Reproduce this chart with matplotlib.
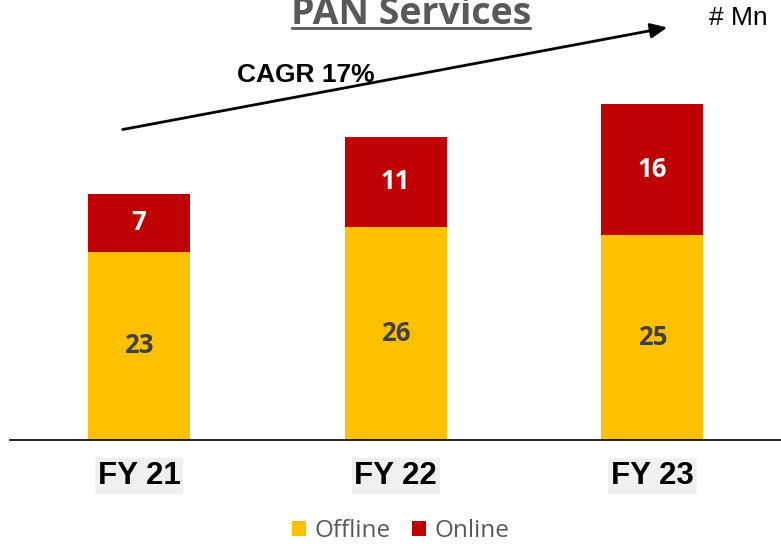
import numpy as np
import matplotlib.pyplot as plt
from matplotlib.lines import Line2D

years = ["FY 21", "FY 22", "FY 23"]
offline = [23, 26, 25]
online = [7, 11, 16]

yellow = "#FFC000"
red = "#C00000"

fig = plt.figure(figsize=(7.81, 5.48), dpi=100)
ax = fig.add_axes([10 / 781, 108 / 548, 771 / 781, 440 / 548])

x = np.arange(len(years))
w = 0.397
b1 = ax.bar(x, offline, w, color=yellow, label="Offline")
b2 = ax.bar(x, online, w, bottom=offline, color=red, label="Online")

for i in range(len(years)):
    ax.text(x[i], offline[i] / 2, str(offline[i]), ha="center", va="center",
            fontsize=18.5, fontweight="bold", color="#404040", family="Open Sans")
    ax.text(x[i], offline[i] + online[i] / 2, str(online[i]), ha="center", va="center",
            fontsize=18.5, fontweight="bold", color="white", family="Open Sans")

ax.set_xlim(-0.5025, 2.501)
ax.set_ylim(0, 53.7)
ax.set_yticks([])
ax.set_xticks(x)
ax.set_xticklabels(years, fontsize=22.5, fontweight="bold", family="Liberation Sans",
                   bbox=dict(facecolor="#f0f0f0", edgecolor="none", pad=2))
ax.tick_params(axis="x", length=0, pad=15)
for s in ["top", "right", "left"]:
    ax.spines[s].set_visible(False)
ax.spines["bottom"].set_color("black")
ax.spines["bottom"].set_linewidth(1.2)

# title (cut off at top, underlined)
fig.text(411 / 781, 1 - 24 / 548, "PAN Services", ha="center", va="baseline",
         fontsize=27, fontweight="bold", color="#595959", family="Open Sans")
fig.add_artist(Line2D([292 / 781, 530 / 781], [1 - 28 / 548, 1 - 28 / 548],
                      color="#595959", lw=2))

fig.text(768 / 781, 1 - 18 / 548, "# Mn", ha="right", va="center",
         fontsize=19, family="Liberation Sans")

# CAGR arrow
ax.annotate("", xy=(670, 548 - 27), xytext=(120, 548 - 130),
            xycoords="figure pixels", textcoords="figure pixels",
            arrowprops=dict(arrowstyle="-|>,head_length=1.0,head_width=0.45",
                            color="black", lw=2))
fig.text(237 / 781, 1 - 75 / 548, "CAGR 17%", ha="left", va="center",
         fontsize=19, fontweight="bold", family="Liberation Sans")

leg = fig.legend(handles=[b1, b2], loc="center", bbox_to_anchor=(0.513, 1 - 531 / 548),
                 ncol=2, frameon=False, handlelength=0.58, handleheight=0.58,
                 handletextpad=0.33, columnspacing=0.9, borderpad=0,
                 prop={"family": "Open Sans", "size": 17.5})
for t in leg.get_texts():
    t.set_color("#595959")

fig.savefig("out.png", dpi=100)
